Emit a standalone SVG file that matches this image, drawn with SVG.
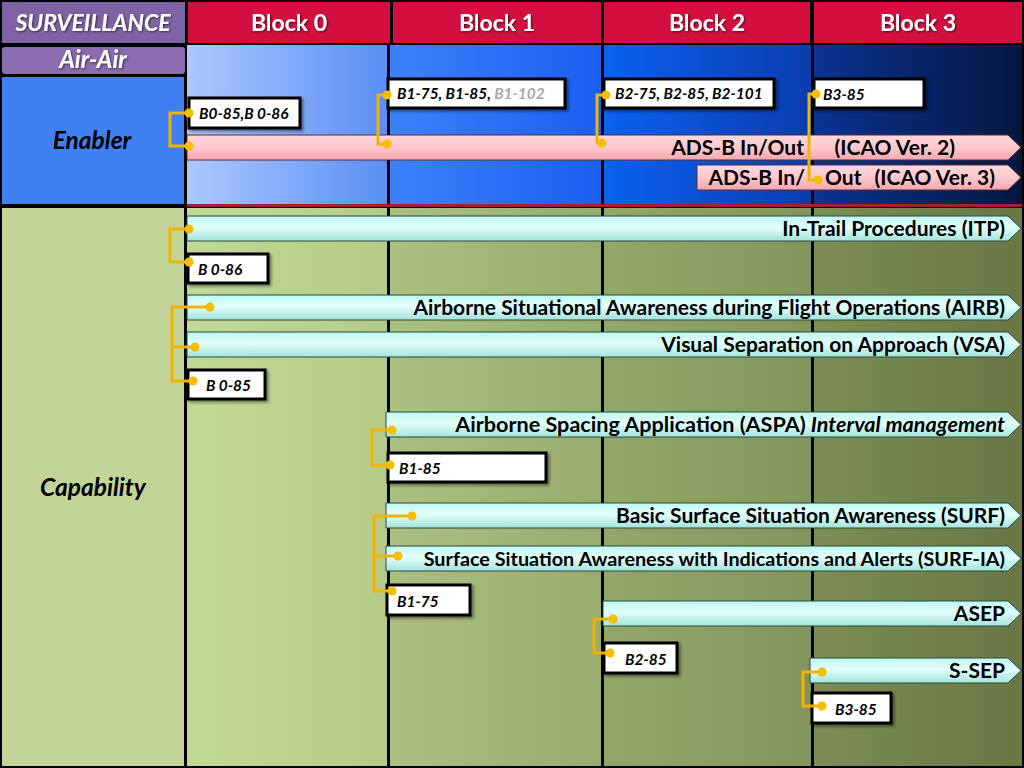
<svg xmlns="http://www.w3.org/2000/svg" width="1024" height="768" viewBox="0 0 1024 768">
<defs>
<linearGradient id="e0" x1="0" x2="1" y1="0" y2="0"><stop offset="0" stop-color="#adc9fc"/><stop offset="1" stop-color="#5a8ef6"/></linearGradient>
<linearGradient id="e1" x1="0" x2="1" y1="0" y2="0"><stop offset="0" stop-color="#3d82fb"/><stop offset="1" stop-color="#1a5ff0"/></linearGradient>
<linearGradient id="e2" x1="0" x2="1" y1="0" y2="0"><stop offset="0" stop-color="#0b62f2"/><stop offset="1" stop-color="#0a3cae"/></linearGradient>
<linearGradient id="e3" x1="0" x2="1" y1="0" y2="0"><stop offset="0" stop-color="#0a3394"/><stop offset="1" stop-color="#06173f"/></linearGradient>
<linearGradient id="c0" x1="0" x2="1" y1="0" y2="0"><stop offset="0" stop-color="#c0da95"/><stop offset="1" stop-color="#b6ca88"/></linearGradient>
<linearGradient id="c1" x1="0" x2="1" y1="0" y2="0"><stop offset="0" stop-color="#aabf80"/><stop offset="1" stop-color="#98ac6e"/></linearGradient>
<linearGradient id="c2" x1="0" x2="1" y1="0" y2="0"><stop offset="0" stop-color="#94a76a"/><stop offset="1" stop-color="#84955b"/></linearGradient>
<linearGradient id="c3" x1="0" x2="1" y1="0" y2="0"><stop offset="0" stop-color="#7d8d54"/><stop offset="1" stop-color="#697745"/></linearGradient>
<linearGradient id="pink" x1="0" x2="0" y1="0" y2="1"><stop offset="0" stop-color="#ffd8dc"/><stop offset="0.5" stop-color="#ffc8cd"/><stop offset="1" stop-color="#f4a5ae"/></linearGradient>
<linearGradient id="cyan" x1="0" x2="0" y1="0" y2="1"><stop offset="0" stop-color="#bff6ef"/><stop offset="0.45" stop-color="#e2fffb"/><stop offset="1" stop-color="#a3e3da"/></linearGradient>
<filter id="sh" x="-10%" y="-20%" width="130%" height="160%"><feDropShadow dx="2" dy="2" stdDeviation="1.5" flood-color="#000" flood-opacity="0.45"/></filter>
<filter id="tsh" x="-10%" y="-20%" width="130%" height="160%"><feDropShadow dx="1" dy="1" stdDeviation="0.8" flood-color="#000" flood-opacity="0.6"/></filter>
<style>
.hdr{font-family:Lato,"Liberation Sans",sans-serif;font-weight:bold;font-size:23px;fill:#fff;text-anchor:middle;}
.side{font-family:Lato,"Liberation Sans",sans-serif;font-weight:bold;font-style:italic;font-size:24.5px;fill:#000;text-anchor:middle;}
.bar{font-family:Lato,"Liberation Sans",sans-serif;font-weight:bold;font-size:21px;fill:#000;}
.box{fill:#fff;stroke:#000;stroke-width:3;}
.bl{font-family:Lato,"Liberation Sans",sans-serif;font-weight:bold;font-style:italic;font-size:15.4px;fill:#000;}
.pb{fill:url(#pink);stroke:#5a2a30;stroke-width:1;}
.cb{fill:url(#cyan);stroke:#2a4a44;stroke-width:1;}
.con{fill:none;stroke:#f0b400;stroke-width:3;}
.dot{fill:#f5be00;}
</style>
</defs>
<rect x="0" y="0" width="1024" height="768" fill="#000"/>
<g id="background">
<rect x="187" y="45" width="200" height="159" fill="url(#e0)"/>
<rect x="390" y="45" width="211" height="159" fill="url(#e1)"/>
<rect x="604" y="45" width="207" height="159" fill="url(#e2)"/>
<rect x="814" y="45" width="208" height="159" fill="url(#e3)"/>
<rect x="187" y="204" width="835" height="3" fill="#a0203c"/>
<rect x="187" y="208" width="200" height="558" fill="url(#c0)"/>
<rect x="390" y="208" width="211" height="558" fill="url(#c1)"/>
<rect x="604" y="208" width="207" height="558" fill="url(#c2)"/>
<rect x="814" y="208" width="208" height="558" fill="url(#c3)"/>
</g>
<g id="header">
<rect x="2" y="2" width="183" height="41" fill="#7f62a4"/>
<text class="hdr" x="93" y="31" font-style="italic" filter="url(#tsh)">SURVEILLANCE</text>
<rect x="188" y="2" width="202" height="41" fill="#d20f3e"/>
<text class="hdr" x="289" y="31" filter="url(#tsh)">Block 0</text>
<rect x="393" y="2" width="208" height="41" fill="#d20f3e"/>
<text class="hdr" x="497" y="31" filter="url(#tsh)">Block 1</text>
<rect x="604" y="2" width="206" height="41" fill="#d20f3e"/>
<text class="hdr" x="707" y="31" filter="url(#tsh)">Block 2</text>
<rect x="814" y="2" width="208" height="41" fill="#d20f3e"/>
<text class="hdr" x="918" y="31" filter="url(#tsh)">Block 3</text>
</g>
<g id="side">
<rect x="2" y="47" width="183" height="27" rx="3" fill="#8a6cb0"/>
<text class="hdr" x="93" y="68" font-style="italic" style="font-size:24px" filter="url(#tsh)">Air-Air</text>
<rect x="2" y="77" width="182" height="127" fill="#3f80f2"/>
<text class="side" x="92" y="149">Enabler</text>
<rect x="2" y="208" width="182" height="558" fill="#c3d498"/>
<text class="side" x="93" y="496">Capability</text>
</g>
<g id="bars">
<g id="adsb2"><path class="pb" d="M187,135 H1008 L1021,147.5 L1008,160 H187 Z"/>
<text class="bar" x="804" y="155" text-anchor="end">ADS-B In/Out</text><text class="bar" x="955" y="155" text-anchor="end">(ICAO Ver. 2)</text></g>
<g id="adsb3"><path class="pb" d="M697,165 H1008 L1021,177.5 L1008,190 H697 Z"/>
<text class="bar" x="805" y="185" text-anchor="end">ADS-B In/</text><text class="bar" x="825" y="185">Out</text><text class="bar" x="995" y="185" text-anchor="end">(ICAO Ver. 3)</text></g>
<g id="itp"><path class="cb" d="M187,216 H1008 L1021,228.5 L1008,241 H187 Z"/>
<text class="bar" x="1005" y="236" text-anchor="end">In-Trail Procedures (ITP)</text></g>
<g id="airb"><path class="cb" d="M187,295 H1008 L1021,307.5 L1008,320 H187 Z"/>
<text class="bar" x="1005" y="315" text-anchor="end">Airborne Situational Awareness during Flight Operations (AIRB)</text></g>
<g id="vsa"><path class="cb" d="M187,332 H1008 L1021,344.5 L1008,357 H187 Z"/>
<text class="bar" x="1005" y="352" text-anchor="end">Visual Separation on Approach (VSA)</text></g>
<g id="aspa"><path class="cb" d="M386,412 H1008 L1021,424.5 L1008,437 H386 Z"/>
<text class="bar" x="1005" y="432" text-anchor="end" style="font-size:21.6px">Airborne Spacing Application (ASPA) <tspan font-style="italic">Interval management</tspan></text></g>
<g id="surf"><path class="cb" d="M386,503 H1008 L1021,515.5 L1008,528 H386 Z"/>
<text class="bar" x="1005" y="523" text-anchor="end">Basic Surface Situation Awareness (SURF)</text></g>
<g id="surfia"><path class="cb" d="M386,546 H1008 L1021,558.5 L1008,571 H386 Z"/>
<text class="bar" x="1005" y="566" text-anchor="end" style="font-size:19.8px">Surface Situation Awareness with Indications and Alerts (SURF-IA)</text></g>
<g id="asep"><path class="cb" d="M603,601 H1008 L1021,613.5 L1008,626 H603 Z"/>
<text class="bar" x="1005" y="621" text-anchor="end">ASEP</text></g>
<g id="ssep"><path class="cb" d="M810,658 H1008 L1021,670.5 L1008,683 H810 Z"/>
<text class="bar" x="1005" y="678" text-anchor="end">S-SEP</text></g>
</g>
<g id="boxes">
<g id="bx-b085-086"><rect class="box" x="189" y="98" width="111" height="30" filter="url(#sh)"/><text class="bl" x="199" y="119">B0-85,B 0-86</text></g>
<g id="bx-b1"><rect class="box" x="388" y="79" width="177" height="29" filter="url(#sh)"/><text class="bl" x="397" y="99">B1-75, B1-85, <tspan fill="#a8a8a8">B1-102</tspan></text></g>
<g id="bx-b2"><rect class="box" x="604" y="79" width="170" height="29" filter="url(#sh)"/><text class="bl" x="615" y="99">B2-75, B2-85, B2-101</text></g>
<g id="bx-b3"><rect class="box" x="814" y="79" width="110" height="29" filter="url(#sh)"/><text class="bl" x="823" y="100">B3-85</text></g>
<g id="bx-b086"><rect class="box" x="188" y="254" width="80" height="29" filter="url(#sh)"/><text class="bl" x="198" y="275">B 0-86</text></g>
<g id="bx-b085"><rect class="box" x="188" y="370" width="77" height="29" filter="url(#sh)"/><text class="bl" x="206" y="391">B 0-85</text></g>
<g id="bx-b185"><rect class="box" x="388" y="453" width="158" height="29" filter="url(#sh)"/><text class="bl" x="399" y="474">B1-85</text></g>
<g id="bx-b175"><rect class="box" x="387" y="585" width="83" height="30" filter="url(#sh)"/><text class="bl" x="397" y="607">B1-75</text></g>
<g id="bx-b285"><rect class="box" x="604" y="643" width="73" height="30" filter="url(#sh)"/><text class="bl" x="625" y="665">B2-85</text></g>
<g id="bx-b385"><rect class="box" x="812" y="693" width="79" height="30" filter="url(#sh)"/><text class="bl" x="835" y="715">B3-85</text></g>
</g>
<g id="connectors">
<path class="con" d="M189,113 H170 V146 H189"/>
<path class="con" d="M387,95 H378 V144 H387"/>
<path class="con" d="M606,95 H597 V143 H602"/>
<path class="con" d="M816,94 H809 V180 H818"/>
<path class="con" d="M189,229 H170 V262 H189"/>
<path class="con" d="M210,307 H172 V381 H193 M172,347 H195"/>
<path class="con" d="M392,430 H372 V465 H390"/>
<path class="con" d="M412,516 H374 V591 H392 M374,556 H398"/>
<path class="con" d="M613,619 H594 V653 H610"/>
<path class="con" d="M822,672 H803 V706 H822"/>
<g class="dot">
<circle cx="189" cy="113" r="4.5"/><circle cx="189" cy="146" r="4.5"/>
<circle cx="387" cy="95" r="4.5"/><circle cx="387" cy="144" r="4.5"/>
<circle cx="606" cy="95" r="4.5"/><circle cx="602" cy="143" r="4.5"/>
<circle cx="816" cy="94" r="4.5"/><circle cx="818" cy="180" r="4.5"/>
<circle cx="189" cy="229" r="4.5"/><circle cx="189" cy="262" r="4.5"/>
<circle cx="210" cy="307" r="4.5"/><circle cx="195" cy="347" r="4.5"/><circle cx="193" cy="381" r="4.5"/>
<circle cx="392" cy="430" r="4.5"/><circle cx="390" cy="465" r="4.5"/>
<circle cx="412" cy="516" r="4.5"/><circle cx="398" cy="556" r="4.5"/><circle cx="392" cy="591" r="4.5"/>
<circle cx="613" cy="619" r="4.5"/><circle cx="610" cy="653" r="4.5"/>
<circle cx="822" cy="672" r="4.5"/><circle cx="822" cy="706" r="4.5"/>
</g>
</g>
</svg>
